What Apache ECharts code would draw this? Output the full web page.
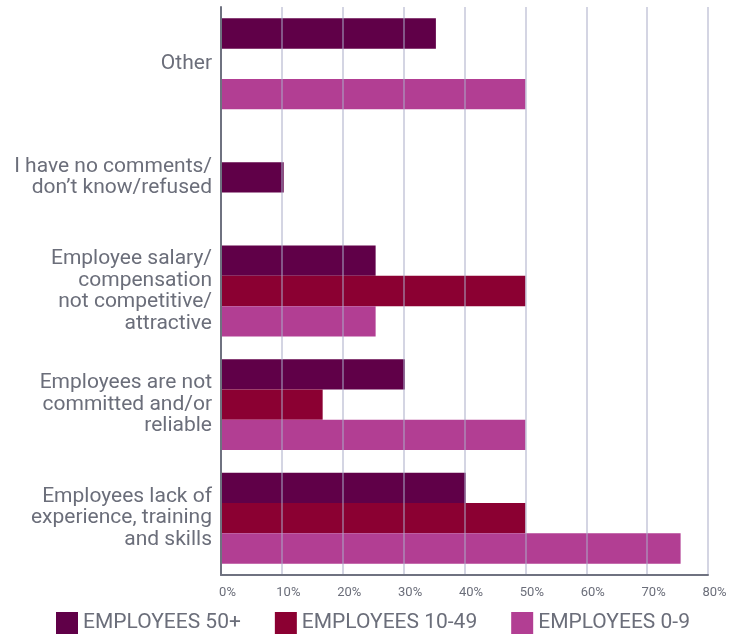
<!DOCTYPE html>
<html>
<head>
<meta charset="utf-8">
<script src="https://cdn.jsdelivr.net/npm/echarts@6/dist/echarts.min.js"></script>
<style>
html,body{margin:0;padding:0;background:#fff;}
#chart{width:734px;height:636px;}
</style>
</head>
<body>
<div id="chart"></div>
<script>
const categories = [
  "Other",
  "I have no comments/\ndon\u2019t know/refused",
  "Employee salary/\ncompensation\nnot competitive/\nattractive",
  "Employees are not\ncommitted and/or\nreliable",
  "Employees lack of\nexperience, training\nand skills"
];
const seriesNames = ["EMPLOYEES 50+", "EMPLOYEES 10-49", "EMPLOYEES 0-9"];
const emp50 = [35.3, 10.3, 25.4, 30.2, 40.2];
const emp1049 = [null, null, 50, 16.7, 50];
const emp09 = [50, null, 25.4, 50, 75.5];
const xTicks = [0, 10, 20, 30, 40, 50, 60, 70, 80];
const colors = ["#600048", "#8b0032", "#b23e93"];

const chart = echarts.init(document.getElementById('chart'), null, {renderer: 'canvas'});
const textColor = '#6b6e7a';
const font = 'Roboto, "Noto Sans", sans-serif';

const dataSets = [emp50, emp1049, emp09];
// Build series data; a category holding a single value shows its bar centred (middle slot)
const built = dataSets.map(arr => arr.slice());
categories.forEach((c, ci) => {
  const present = dataSets.map(a => a[ci] != null);
  const count = present.filter(Boolean).length;
  if (count === 1) {
    const si = present.indexOf(true);
    if (si !== 1) {
      built[1][ci] = {value: dataSets[si][ci], itemStyle: {color: colors[si]}};
      built[si][ci] = null;
    }
  }
});

chart.setOption({
  animation: false,
  color: colors,
  grid: {left: 221, right: 26, top: 7, bottom: 61, containLabel: false},
  legend: {
    top: 612,
    left: 56,
    padding: 0,
    itemWidth: 22,
    itemHeight: 22,
    itemGap: 34,
    icon: 'rect',
    textStyle: {fontSize: 21, color: textColor, fontFamily: font},
    data: seriesNames
  },
  xAxis: {
    type: 'value',
    min: xTicks[0],
    max: xTicks[xTicks.length - 1],
    interval: 10,
    z: 3,
    axisLine: {show: true, lineStyle: {color: '#6f7280', width: 2}},
    axisTick: {show: false},
    splitLine: {show: true, lineStyle: {color: 'rgba(170,172,200,0.5)', width: 2}},
    axisLabel: {
      formatter: '{value}%',
      color: textColor,
      fontSize: 13,
      fontFamily: font,
      margin: 11,
      padding: [0, 0, 0, 13]
    }
  },
  yAxis: {
    type: 'category',
    inverse: true,
    data: categories,
    z: 3,
    axisLine: {show: true, lineStyle: {color: '#6f7280', width: 2}},
    axisTick: {show: false},
    axisLabel: {
      color: textColor,
      fontSize: 21,
      lineHeight: 21.5,
      fontFamily: font,
      margin: 9,
      align: 'right'
    }
  },
  series: seriesNames.map((name, i) => ({
    name: name,
    type: 'bar',
    data: built[i],
    barGap: '0%',
    barCategoryGap: '20%',
    itemStyle: {color: colors[i]}
  }))
});
</script>
</body>
</html>
